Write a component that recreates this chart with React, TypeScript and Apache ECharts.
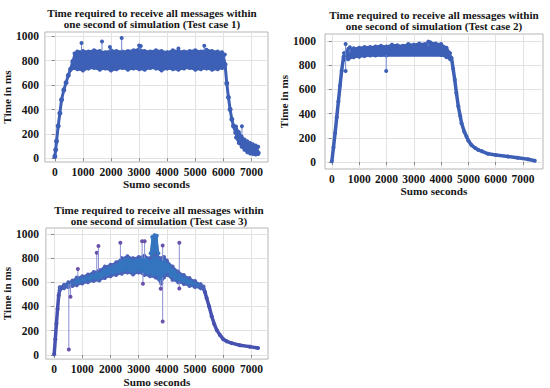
import React, { useEffect, useRef } from "react";
import * as echarts from "echarts";

const xTicks = [0, 1000, 2000, 3000, 4000, 5000, 6000, 7000];
const yTicks = [0, 200, 400, 600, 800, 1000];

const titleLine1 = "Time required to receive all messages within";
const titleLine2 = [
  "one second of simulation (Test case 1)",
  "one second of simulation (Test case 2)",
  "one second of simulation (Test case 3)",
];

// ---- Test case 1 ----
const c1LineT = [0, 30, 60, 120, 180, 240, 320, 400, 480, 560, 640, 700, 6000, 6060, 6120, 6180, 6240, 6300, 6360, 6440, 6530, 6650, 6770, 6900, 7060, 7240];
const c1LineV = [15, 70, 140, 265, 370, 480, 560, 620, 680, 730, 790, 800, 800, 770, 615, 500, 400, 320, 265, 210, 160, 125, 100, 80, 60, 45];
const c1BandT = [640, 700, 800, 1000, 1200, 1400, 1600, 1800, 2000, 2200, 2400, 2600, 2800, 3000, 3200, 3400, 3600, 3800, 4000, 4200, 4400, 4600, 4800, 5000, 5200, 5400, 5600, 5800, 5950, 6050];
const c1BandHi = [800, 860, 875, 880, 875, 885, 880, 870, 885, 880, 875, 880, 885, 895, 880, 875, 885, 880, 870, 885, 880, 875, 880, 885, 875, 890, 880, 875, 870, 850];
const c1BandLo = [740, 740, 730, 720, 735, 740, 725, 735, 720, 730, 740, 725, 735, 730, 725, 740, 735, 720, 735, 730, 725, 735, 740, 725, 730, 735, 725, 730, 740, 740];
const c1TailT = [6450, 6550, 6650, 6750, 6850, 6950, 7050, 7150, 7240];
const c1TailHi = [260, 215, 180, 155, 140, 125, 115, 105, 95];
const c1TailLo = [170, 125, 95, 70, 50, 40, 35, 32, 35];
const c1SpikeT = [950, 1680, 1960, 2380, 3000, 3060, 4400, 5320, 6660];
const c1SpikeBase = [880, 880, 880, 880, 890, 890, 880, 885, 200];
const c1SpikeTop = [945, 958, 912, 985, 925, 920, 900, 922, 262];

// ---- Test case 2 ----
const c2LineT = [0, 60, 120, 180, 240, 300, 360, 430, 480, 4300, 4380, 4440, 4500, 4560, 4630, 4700, 4750, 4850, 4930, 5000, 5110, 5250, 5360, 5500, 5720, 6000, 6450, 6800, 7180, 7430];
const c2LineV = [5, 120, 240, 370, 500, 630, 755, 870, 885, 885, 860, 770, 680, 570, 460, 380, 320, 250, 210, 175, 140, 115, 100, 88, 68, 58, 45, 35, 22, 10];
const c2BandT = [440, 600, 800, 1000, 1200, 1400, 1600, 1800, 2000, 2200, 2400, 2600, 2800, 3000, 3200, 3400, 3600, 3800, 4000, 4200, 4330];
const c2BandHi = [900, 935, 940, 945, 950, 950, 955, 960, 955, 970, 965, 960, 975, 970, 980, 975, 990, 980, 975, 945, 900];
const c2BandLo = [845, 850, 865, 870, 875, 880, 880, 885, 880, 890, 890, 895, 895, 900, 895, 895, 900, 895, 885, 865, 850];
const c2SpikeT = [505, 505, 660, 1990, 3530];
const c2SpikeBase = [880, 870, 905, 885, 960];
const c2SpikeTop = [975, 752, 948, 752, 995];

// ---- Test case 3 ----
const c3RampT = [0, 40, 80, 120, 160, 200, 250];
const c3RampV = [5, 130, 260, 380, 490, 545, 555];
const c3DropT = [5290, 5350, 5410, 5500, 5590, 5680, 5770, 5880, 6000, 6120, 6300, 6590, 6940, 7235];
const c3DropV = [555, 520, 470, 400, 320, 255, 205, 165, 130, 112, 97, 80, 68, 56];
const c3BandT = [200, 350, 500, 650, 800, 1000, 1200, 1400, 1600, 1800, 2000, 2200, 2400, 2600, 2800, 3000, 3200, 3400, 3600, 3800, 3900, 4000, 4200, 4400, 4600, 4800, 5000, 5200, 5300];
const c3BandHi = [560, 580, 600, 615, 640, 650, 665, 685, 700, 730, 745, 765, 800, 815, 800, 810, 820, 800, 830, 800, 810, 780, 730, 690, 660, 635, 610, 585, 565];
const c3BandLo = [535, 550, 560, 570, 575, 590, 600, 610, 615, 635, 650, 660, 670, 680, 665, 680, 660, 650, 640, 590, 640, 660, 620, 600, 585, 570, 560, 550, 545];
const c3BlobT = [3420, 3480, 3560, 3640, 3700];
const c3BlobHi = [840, 975, 990, 985, 840];
const c3BlobLo = [760, 770, 760, 720, 720];
const c3SpikeT = [520, 580, 840, 1510, 1570, 2350, 3120, 3150, 3210, 3850, 3850, 3780, 4440, 4440];
const c3SpikeBase = [585, 590, 640, 690, 700, 790, 800, 680, 800, 780, 640, 620, 690, 600];
const c3SpikeTop = [45, 480, 710, 845, 900, 927, 940, 588, 940, 905, 276, 547, 927, 548];

const FONT = "'Liberation Serif', 'Times New Roman', serif";
const BLUE = "#3d60b6";
const BLUE3 = "#3574bf";
const INDIGO = "#4651b0";
const PURPLE = "#6a52aa";
const INK = "#161616";

function lineSeries(idx: number, T: number[], V: number[], color: string, width: number, sym: number) {
  return {
    type: "line",
    xAxisIndex: idx,
    yAxisIndex: idx,
    data: T.map((t, i) => [t, V[i]]),
    lineStyle: { color, width },
    itemStyle: { color },
    symbol: "circle",
    symbolSize: sym,
    showSymbol: sym > 0,
    showAllSymbol: true,
    silent: true,
    z: 4,
  };
}

function bandSeries(idx: number, T: number[], Lo: number[], Hi: number[], fill: string, edge: string, edgeW: number) {
  const band = {
    type: "custom",
    xAxisIndex: idx,
    yAxisIndex: idx,
    data: T.map((t, i) => [t, Lo[i], Hi[i]]),
    encode: { x: 0, y: [1, 2] },
    silent: true,
    z: 3,
    renderItem: (params: any, api: any) => {
      const i = params.dataIndex;
      if (i >= T.length - 1) return { type: "group", children: [] };
      const pts = [
        api.coord([T[i], Hi[i]]),
        api.coord([T[i + 1], Hi[i + 1]]),
        api.coord([T[i + 1], Lo[i + 1]]),
        api.coord([T[i], Lo[i]]),
      ];
      return { type: "polygon", shape: { points: pts }, style: { fill, stroke: fill, lineWidth: 1 } };
    },
  };
  return [
    band,
    lineSeries(idx, T, Hi, edge, edgeW, 4),
    lineSeries(idx, T, Lo, edge, edgeW, 4),
  ];
}

function spikeSeries(idx: number, T: number[], Base: number[], Top: number[], lineColor: string, dot: string) {
  return {
    type: "custom",
    xAxisIndex: idx,
    yAxisIndex: idx,
    data: T.map((t, i) => [t, Base[i], Top[i]]),
    encode: { x: 0, y: [1, 2] },
    silent: true,
    z: 5,
    renderItem: (params: any, api: any) => {
      const i = params.dataIndex;
      const b = api.coord([T[i], Base[i]]);
      const p = api.coord([T[i], Top[i]]);
      return {
        type: "group",
        children: [
          { type: "line", shape: { x1: b[0], y1: b[1], x2: p[0], y2: p[1] }, style: { stroke: lineColor, lineWidth: 1 } },
          { type: "circle", shape: { cx: p[0], cy: p[1], r: 2 }, style: { fill: dot } },
        ],
      };
    },
  };
}

const fmt = (v: number) => String(v);

function xAxis(idx: number, min: number, max: number, nameGap: number) {
  return {
    type: "value",
    gridIndex: idx,
    min,
    max,
    name: "Sumo seconds",
    nameLocation: "middle",
    nameGap,
    nameTextStyle: { fontFamily: FONT, fontWeight: "bold", fontSize: 11.2, color: INK },
    axisLine: { show: false },
    axisTick: { show: true, length: 3, customValues: xTicks, lineStyle: { color: "#888" } },
    axisLabel: { customValues: xTicks, formatter: fmt, margin: 4, fontFamily: FONT, fontWeight: "bold", fontSize: 11.5, color: INK },
    splitLine: { show: true, lineStyle: { color: "#e2e2e2", width: 1 } },
  };
}

function yAxis(idx: number, min: number, max: number, nameGap: number, margin: number) {
  return {
    type: "value",
    gridIndex: idx,
    min,
    max,
    name: "Time in ms",
    nameLocation: "middle",
    nameGap,
    nameTextStyle: { fontFamily: FONT, fontWeight: "bold", fontSize: 11.2, color: INK },
    axisLine: { show: false },
    axisTick: { show: true, length: 3, customValues: yTicks, lineStyle: { color: "#888" } },
    axisLabel: { customValues: yTicks, formatter: fmt, margin, fontFamily: FONT, fontWeight: "bold", fontSize: 11.5, color: INK },
    splitLine: { show: true, lineStyle: { color: "#e2e2e2", width: 1 } },
  };
}

function titleText(x: number, y: number, text: string) {
  return {
    type: "text",
    x,
    y,
    silent: true,
    style: {
      text,
      fontFamily: FONT,
      fontWeight: "bold",
      fontSize: 11.1,
      fill: INK,
      textAlign: "center",
      textVerticalAlign: "middle",
    },
  };
}

export default function App() {
  const ref = useRef<HTMLDivElement>(null);
  useEffect(() => {
    if (!ref.current) return;
    const chart = echarts.init(ref.current, undefined, { renderer: "svg" });
    const gridStyle = { show: true, borderColor: "#b5b5b5", borderWidth: 1, backgroundColor: "#ffffff" };
    const option: any = {
      animation: false,
      backgroundColor: "#ffffff",
      grid: [
        { left: 43, top: 32, width: 225, height: 130, ...gridStyle },
        { left: 325, top: 34, width: 218, height: 135, ...gridStyle },
        { left: 45, top: 228, width: 223, height: 134, ...gridStyle },
      ],
      xAxis: [xAxis(0, -353, 7588, 14), xAxis(1, -250, 7730, 9), xAxis(2, -294, 7588, 12)],
      yAxis: [yAxis(0, -30, 1035, 28, 6), yAxis(1, -58, 1058, 30, 9), yAxis(2, -35, 1049, 28, 7)],
      graphic: [
        titleText(152, 12.5, titleLine1),
        titleText(152, 23.8, titleLine2[0]),
        titleText(434, 14.5, titleLine1),
        titleText(434, 25.8, titleLine2[1]),
        titleText(159, 209.5, titleLine1),
        titleText(159, 220.8, titleLine2[2]),
      ],
      series: [
        lineSeries(0, c1LineT, c1LineV, BLUE, 3, 5),
        ...bandSeries(0, c1BandT, c1BandLo, c1BandHi, BLUE, BLUE, 2),
        ...bandSeries(0, c1TailT, c1TailLo, c1TailHi, BLUE, BLUE, 2),
        spikeSeries(0, c1SpikeT, c1SpikeBase, c1SpikeTop, "#6f8ad0", BLUE),

        lineSeries(1, c2LineT, c2LineV, BLUE, 3.5, 4),
        ...bandSeries(1, c2BandT, c2BandLo, c2BandHi, BLUE, BLUE, 2),
        spikeSeries(1, c2SpikeT, c2SpikeBase, c2SpikeTop, "#6f8ad0", BLUE),

        lineSeries(2, c3RampT, c3RampV, INDIGO, 3.5, 4),
        lineSeries(2, c3DropT, c3DropV, INDIGO, 3.5, 4),
        ...bandSeries(2, c3BandT, c3BandLo, c3BandHi, BLUE3, "#4a62b8", 1.5),
        ...bandSeries(2, c3BlobT, c3BlobLo, c3BlobHi, BLUE3, BLUE3, 1.5),
        spikeSeries(2, c3SpikeT, c3SpikeBase, c3SpikeTop, "#8a8fd0", PURPLE),
      ],
    };
    chart.setOption(option);
    return () => chart.dispose();
  }, []);
  return (
    <div
      ref={ref}
      style={{ position: "absolute", left: 0, top: 0, width: 550, height: 388, background: "#fff" }}
    />
  );
}
